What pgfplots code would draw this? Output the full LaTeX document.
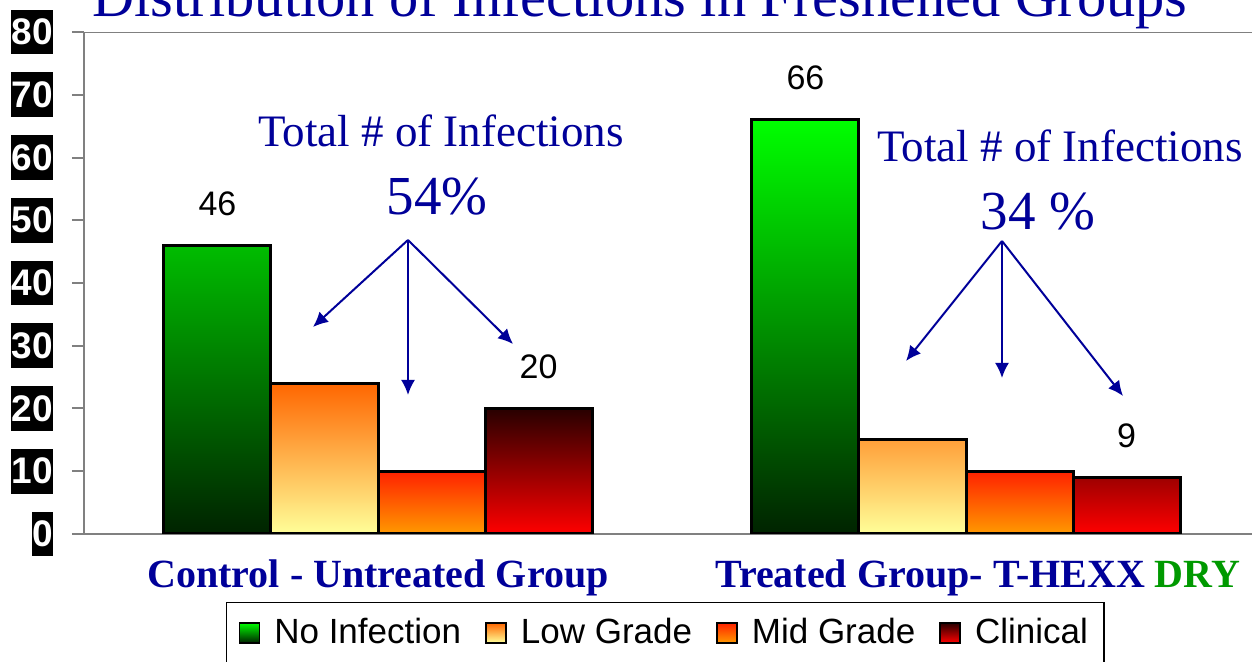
\documentclass[border=0pt]{standalone}
\usepackage{pgfplots}
\pgfplotsset{compat=1.18}
\usepackage{fontspec}
\setmainfont{Liberation Serif}
\newfontfamily\arial{Liberation Sans}
\usetikzlibrary{arrows.meta}

\definecolor{navy}{RGB}{0,0,153}
\definecolor{drygreen}{RGB}{0,153,0}
\definecolor{gTop}{RGB}{0,255,0}
\definecolor{gBot}{RGB}{0,35,0}
\definecolor{lTop}{RGB}{255,102,0}
\definecolor{lBot}{RGB}{255,255,153}
\definecolor{mTop}{RGB}{255,34,0}
\definecolor{mBot}{RGB}{255,153,0}
\definecolor{cTop}{RGB}{40,0,0}
\definecolor{cBot}{RGB}{255,0,0}
\definecolor{axgray}{RGB}{128,128,128}

\begin{document}
\begin{tikzpicture}
\begin{axis}[
  ybar, bar width=0.182, bar shift=0pt,
  scale only axis, width=588pt, height=251pt,
  xmin=-0.5, xmax=1.5, ymin=0, ymax=80,
  axis x line*=bottom, axis y line*=left,
  axis line style={draw=axgray, line width=1pt},
  /pgf/number format/assume math mode=true,
  ytick={0,10,...,80},
  tick align=outside, major tick length=6pt,
  ytick style={draw=axgray, line width=1pt},
  yticklabel style={font=\arial\bfseries\fontsize{18.5}{18.5}\selectfont,
    text=white, fill=black, inner xsep=0pt, inner ysep=4.6pt, anchor=east, xshift=-9.5pt},
  xtick={0,1.02}, xtick style={draw=none},
  xticklabels={Control - Untreated Group, Treated Group- T-HEXX \textcolor{drygreen}{DRY}},
  xticklabel style={font=\bfseries\fontsize{20}{20}\selectfont, text=navy, anchor=center, yshift=-16pt},
  legend columns=4,
  legend style={at={(0.1207,-0.1355)}, anchor=north west, draw=black, line width=0.6pt,
    font=\arial\fontsize{17.5}{17.5}\selectfont, inner xsep=6pt, inner ysep=6pt,
    /tikz/every odd column/.append style={column sep=5pt},
    /tikz/every even column/.append style={column sep=10pt}},
  legend image code/.code={\draw[#1, line width=0.9pt] (0pt,-5pt) rectangle (10pt,5pt);},
  every node near coord/.append style={font=\arial\fontsize{17}{17}\selectfont, anchor=center, yshift=21pt},
]
\addplot[draw=black, line width=1.5pt, top color=gTop, bottom color=gBot, nodes near coords]
  coordinates {(-0.273,46) (0.727,66)};
\addlegendentry{No Infection}
\addplot[draw=black, line width=1.5pt, top color=lTop, bottom color=lBot]
  coordinates {(-0.091,24) (0.909,15)};
\addlegendentry{Low Grade}
\addplot[draw=black, line width=1.5pt, top color=mTop, bottom color=mBot]
  coordinates {(0.091,10) (1.091,10)};
\addlegendentry{Mid Grade}
\addplot[draw=black, line width=1.5pt, top color=cTop, bottom color=cBot, nodes near coords]
  coordinates {(0.273,20) (1.273,9)};
\addlegendentry{Clinical}
\draw[axgray, line width=1pt] (rel axis cs:0,1) -- (rel axis cs:1,1);
\end{axis}

% annotations in pixel units of the reference
\begin{scope}[x=0.5pt, y=-0.5pt, shift={(-42pt,267pt)}]
\node[anchor=base, text=navy, font=\fontsize{29.2}{30}\selectfont, inner sep=0pt]
  at (640,17) {Distribution of Infections in Freshened Groups};
\node[anchor=base, text=navy, font=\fontsize{22.5}{24}\selectfont, inner sep=0pt]
  at (441,147) {Total \# of Infections};
\node[anchor=base, text=navy, font=\fontsize{27.5}{28}\selectfont, inner sep=0pt]
  at (437,215) {54\%};
\node[anchor=base, text=navy, font=\fontsize{22.5}{24}\selectfont, inner sep=0pt]
  at (1060,162) {Total \# of Infections};
\node[anchor=base, text=navy, font=\fontsize{27.5}{28}\selectfont, inner sep=0pt]
  at (1038,230) {34 \%};
\begin{scope}[navy, line width=1pt, -{Latex[length=7.5pt, width=7pt]}]
\draw (408,240) -- (313,327);
\draw (408,240) -- (408,395);
\draw (408,240) -- (513,344);
\draw (1002,241) -- (906,361);
\draw (1002,241) -- (1002,378);
\draw (1002,241) -- (1123,396);
\end{scope}
\end{scope}
\pgfresetboundingbox
\useasboundingbox (-42pt,-64pt) rectangle (584pt,267pt);
\end{tikzpicture}
\end{document}
